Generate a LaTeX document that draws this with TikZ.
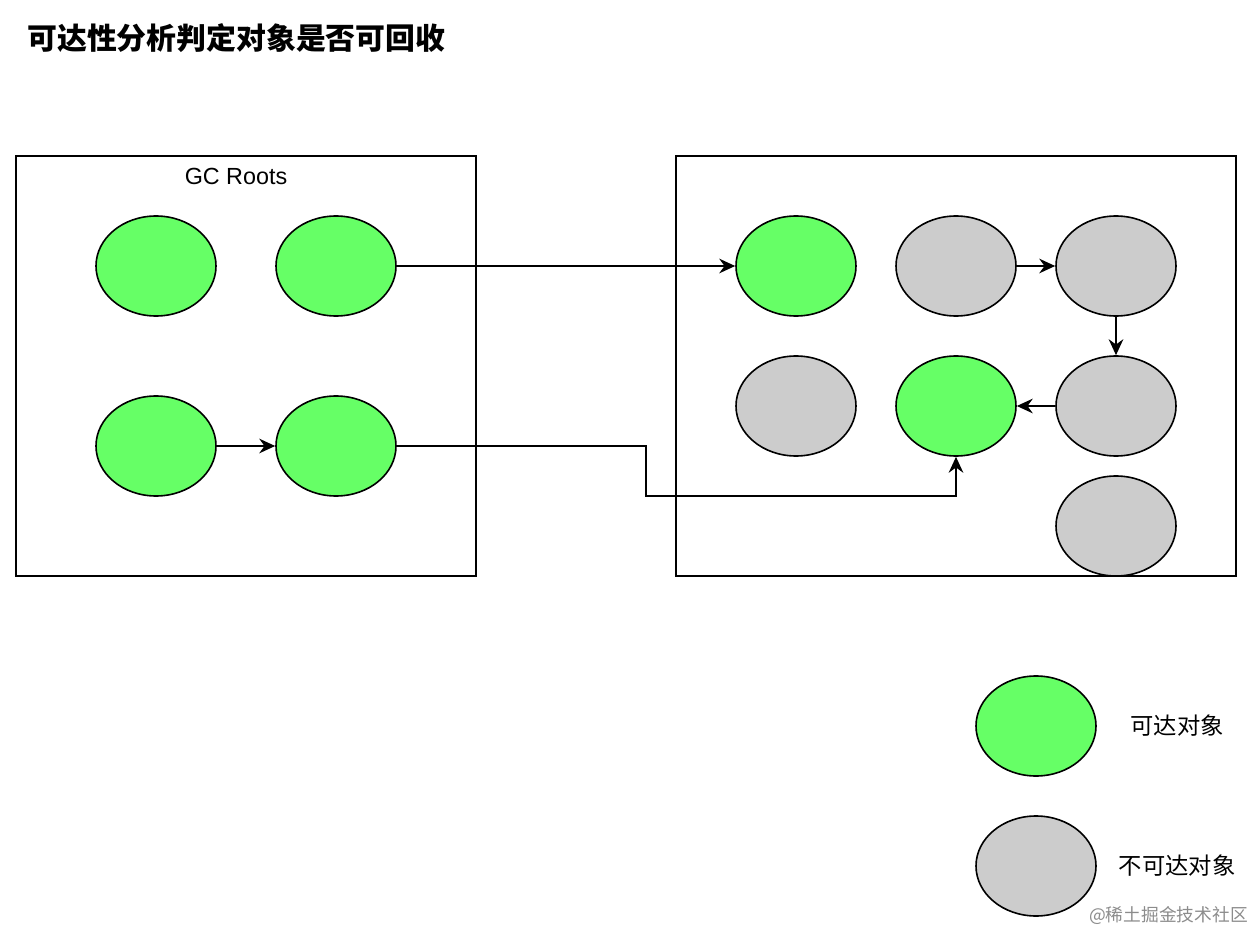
\documentclass[tikz,border=0pt]{standalone}
\usepackage{fontspec}
\setmainfont{Liberation Sans}
\newfontfamily\cjk{Noto Sans CJK SC}
\usetikzlibrary{arrows.meta,shapes.geometric}
\definecolor{okgreen}{HTML}{66FF66}
\definecolor{nogray}{HTML}{CCCCCC}
\begin{document}
\begin{tikzpicture}[x=0.75pt,y=-0.75pt,
  obj/.style={ellipse,draw=black,line width=1.2pt,minimum width=90pt,minimum height=75pt,inner sep=0pt},
  reach/.style={obj,fill=okgreen},
  unreach/.style={obj,fill=nogray},
  frame/.style={draw=black,line width=1.2pt},
  link/.style={draw=black,line width=1.2pt,-{Stealth[length=12pt,width=11pt,inset=4pt]}},
  lbl/.style={font=\cjk\fontsize{17.5}{21}\selectfont,inner sep=0pt}]
\useasboundingbox[fill=white] (0,0) rectangle (1254,934);
\node[anchor=west,inner sep=0pt,font=\cjk\bfseries\fontsize{22.4}{27}\selectfont] (title) at (27,38) {可达性分析判定对象是否可回收};
% boxes
\node[frame,minimum width=345pt,minimum height=315pt,inner sep=0pt] (lbox) at (246,366) {};
\node[frame,minimum width=420pt,minimum height=315pt,inner sep=0pt] (rbox) at (956,366) {};
\node[font=\fontsize{17.5}{21}\selectfont,inner sep=0pt] (gcr) at (236,176) {GC Roots};
% left
\node[reach] (l1) at (156,266) {};
\node[reach] (l2) at (336,266) {};
\node[reach] (l3) at (156,446) {};
\node[reach] (l4) at (336,446) {};
% right
\node[reach] (r1) at (796,266) {};
\node[unreach] (r2) at (956,266) {};
\node[unreach] (r3) at (1116,266) {};
\node[unreach] (r4) at (796,406) {};
\node[reach] (r5) at (956,406) {};
\node[unreach] (r6) at (1116,406) {};
\node[unreach] (r7) at (1116,526) {};
% legend
\node[reach] (g1) at (1036,726) {};
\node[unreach] (g2) at (1036,866) {};
\node[lbl] (t1) at (1177,726) {可达对象};
\node[lbl] (t2) at (1177,866) {不可达对象};
\node[font=\cjk\fontsize{13.3}{16}\selectfont,text=black!45,anchor=east,inner sep=0pt] (wm) at (1248,916) {@稀土掘金技术社区};
% connectors
\draw[link] (l2) -- (r1);
\draw[link] (l3) -- (l4);
\draw[link] (r2) -- (r3);
\draw[link] (r3) -- (r6);
\draw[link] (r6) -- (r5);
\coordinate (k1) at (646,446);
\coordinate (k2) at (646,496);
\coordinate (k3) at (956,496);
\draw[link] (l4.east) -- (k1) -- (k2) -- (k3) -- (r5.south);
\end{tikzpicture}
\end{document}
